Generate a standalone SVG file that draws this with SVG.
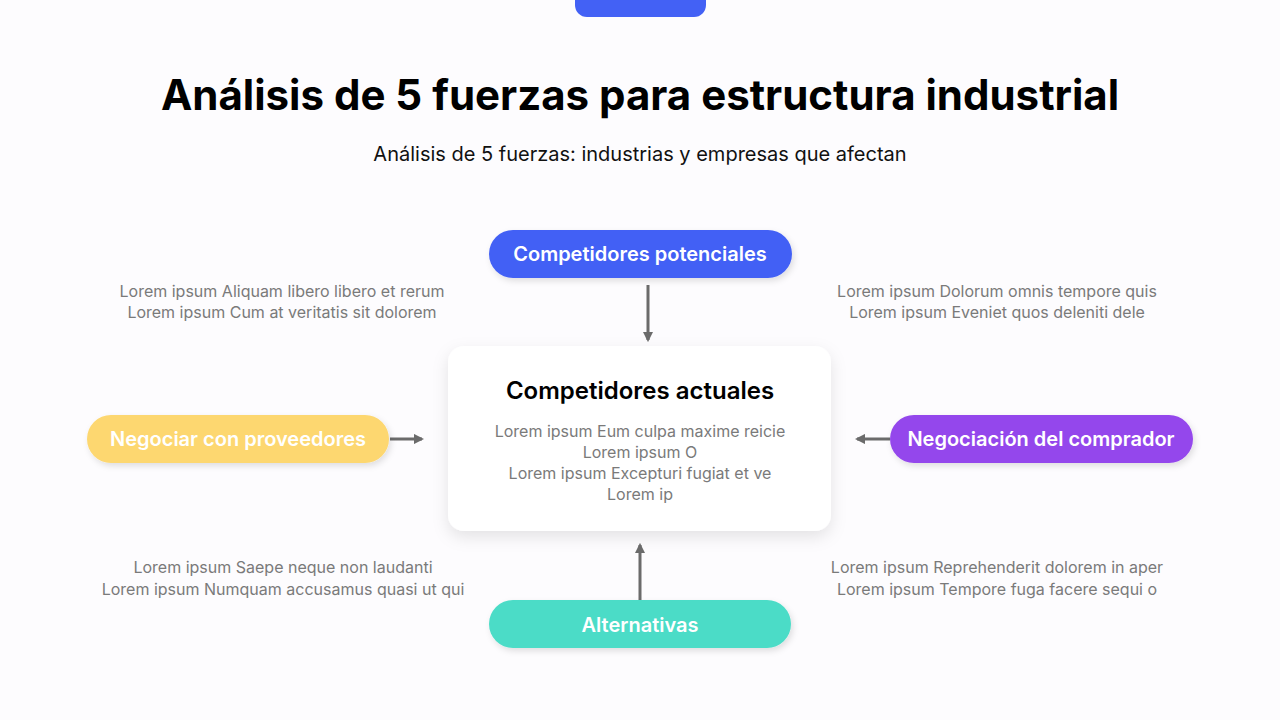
<svg xmlns="http://www.w3.org/2000/svg" width="1280" height="720" viewBox="0 0 1280 720">
<defs>
<style>
text{font-family:Inter,"Noto Sans","Liberation Sans",sans-serif}
.pill{font-size:20px;font-weight:600;fill:#fff;text-anchor:middle}
.desc{font-size:16px;fill:#7a7a7a;text-anchor:middle}
.conn{stroke:#6b6b6b;stroke-width:3;fill:none;marker-end:url(#ah)}
</style>
<marker id="ah" viewBox="0 0 10 10" refX="8" refY="5" markerWidth="3.5" markerHeight="3.5" orient="auto"><path d="M0,0L10,5L0,10z" fill="#6b6b6b"/></marker>
<filter id="sh" x="-20%" y="-20%" width="140%" height="150%"><feDropShadow dx="0" dy="6" stdDeviation="8" flood-color="#000" flood-opacity="0.10"/></filter>
<filter id="sh2" x="-10%" y="-20%" width="120%" height="160%"><feDropShadow dx="2" dy="3" stdDeviation="3" flood-color="#000" flood-opacity="0.12"/></filter>
</defs>
<rect width="1280" height="720" fill="#fdfcfe"/>
<rect x="575" y="-20" width="131" height="37" rx="12" fill="#4361f5"/>
<text x="640" y="110" font-size="42" font-weight="700" text-anchor="middle" fill="#000">Análisis de 5 fuerzas para estructura industrial</text>
<text x="640" y="161" font-size="20" text-anchor="middle" fill="#111">Análisis de 5 fuerzas: industrias y empresas que afectan</text>
<g id="connectors">
<line class="conn" x1="648" y1="285" x2="648" y2="340"/>
<line class="conn" x1="640" y1="600" x2="640" y2="545"/>
<line class="conn" x1="390" y1="439" x2="422" y2="439"/>
<line class="conn" x1="890" y1="439" x2="857" y2="439"/>
</g>
<g id="center">
<rect x="448" y="346" width="383" height="185" rx="16" fill="#fff" filter="url(#sh)"/>
<text x="640" y="399" font-size="24" font-weight="600" text-anchor="middle" fill="#000">Competidores actuales</text>
<text class="desc" x="640" y="437">Lorem ipsum Eum culpa maxime reicie</text>
<text class="desc" x="640" y="458">Lorem ipsum O</text>
<text class="desc" x="640" y="479">Lorem ipsum Excepturi fugiat et ve</text>
<text class="desc" x="640" y="500">Lorem ip</text>
</g>
<g id="top">
<rect x="489" y="230" width="303" height="48" rx="24" fill="#4361f5" filter="url(#sh2)"/>
<text class="pill" x="640" y="261">Competidores potenciales</text>
</g>
<g id="left">
<rect x="87" y="415" width="302" height="48" rx="24" fill="#fdd770" filter="url(#sh2)"/>
<text class="pill" x="238" y="446">Negociar con proveedores</text>
</g>
<g id="right">
<rect x="890" y="415" width="303" height="48" rx="24" fill="#9447ec" filter="url(#sh2)"/>
<text class="pill" x="1041" y="446">Negociación del comprador</text>
</g>
<g id="bottom">
<rect x="489" y="600" width="302" height="48" rx="24" fill="#4cdcc7" filter="url(#sh2)"/>
<text class="pill" x="640" y="632">Alternativas</text>
</g>
<g id="notes">
<text class="desc" x="282" y="297">Lorem ipsum Aliquam libero libero et rerum</text>
<text class="desc" x="282" y="318">Lorem ipsum Cum at veritatis sit dolorem</text>
<text class="desc" x="997" y="297">Lorem ipsum Dolorum omnis tempore quis</text>
<text class="desc" x="997" y="318">Lorem ipsum Eveniet quos deleniti dele</text>
<text class="desc" x="283" y="573">Lorem ipsum Saepe neque non laudanti</text>
<text class="desc" x="283" y="595">Lorem ipsum Numquam accusamus quasi ut qui</text>
<text class="desc" x="997" y="573">Lorem ipsum Reprehenderit dolorem in aper</text>
<text class="desc" x="997" y="595">Lorem ipsum Tempore fuga facere sequi o</text>
</g>
</svg>
